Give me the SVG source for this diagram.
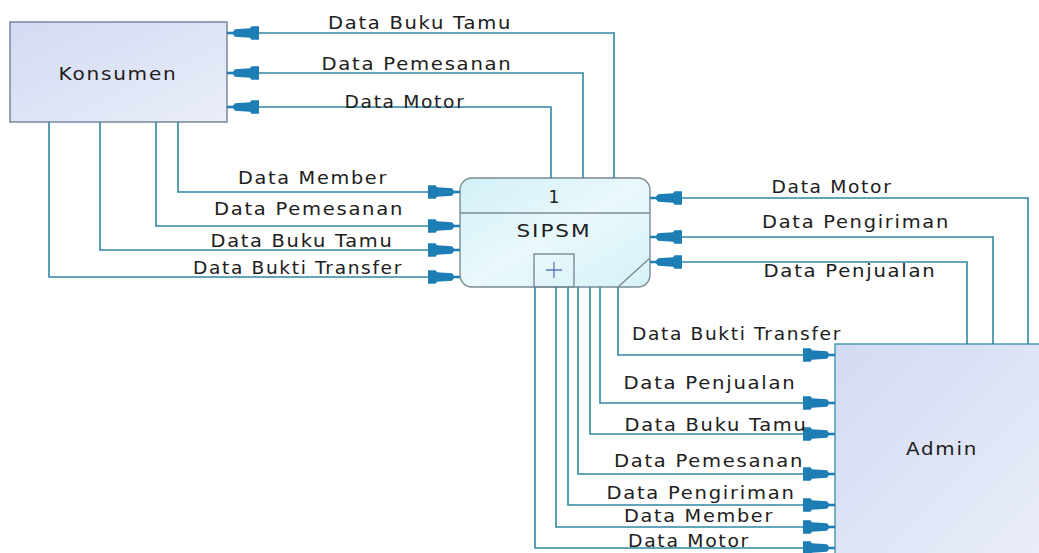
<svg xmlns="http://www.w3.org/2000/svg" width="1039" height="553" viewBox="0 0 1039 553">
  <style>
    .lbl { font-family: "DejaVu Sans", "Liberation Sans", sans-serif; font-size: 17px; letter-spacing: 1.5px; fill: #202020; text-anchor: middle; }
    .flow { fill: none; stroke: #2f86a3; stroke-width: 1.6; marker-end: url(#arrow); }
    .entity { stroke: #6e7f92; stroke-width: 1.4; }
    .proc { stroke: #7b8b96; stroke-width: 1.4; }
  </style>
  <defs>
    <linearGradient id="entFill" x1="0" y1="0" x2="1" y2="1">
      <stop offset="0" stop-color="#d3daf3"/>
      <stop offset="1" stop-color="#eaeef9"/>
    </linearGradient>
    <linearGradient id="procFill" x1="0" y1="0" x2="1" y2="1">
      <stop offset="0" stop-color="#d2f0f7"/>
      <stop offset="0.5" stop-color="#e9f8fb"/>
      <stop offset="1" stop-color="#d6f2f8"/>
    </linearGradient>
    <marker id="arrow" markerUnits="userSpaceOnUse" viewBox="-33 -8 34 16" markerWidth="34" markerHeight="16" refX="0" refY="0" orient="auto">
      <path d="M0,-1.2 L-6,-1.2 L-8,-3.8 L-23,-4.8 L-24.5,-6.8 L-32,-6.8 L-32,6.8 L-24.5,6.8 L-23,4.8 L-8,3.8 L-6,1.2 L0,1.2 Z" fill="#1d7db5"/>
    </marker>
  </defs>

  <rect width="1039" height="553" fill="#ffffff"/>

  <!-- external entity: Konsumen -->
  <g id="konsumen">
    <rect class="entity" x="10" y="22" width="217" height="100" fill="url(#entFill)"/>
    <text class="lbl" x="118" y="80" textLength="119" lengthAdjust="spacingAndGlyphs">Konsumen</text>
  </g>

  <!-- process 1: SIPSM -->
  <g id="sipsm">
    <rect class="proc" x="460" y="178" width="190" height="109" rx="12" fill="url(#procFill)"/>
    <line class="proc" x1="460" y1="213" x2="650" y2="213"/>
    <line class="proc" x1="618" y1="287" x2="650" y2="258"/>
    <rect class="proc" x="534" y="254" width="40" height="33" fill="none"/>
    <text class="lbl" x="554" y="203" style="letter-spacing:0">1</text>
    <text class="lbl" x="554" y="237" textLength="75" lengthAdjust="spacingAndGlyphs">SIPSM</text>
    <path d="M546,270 H562 M554,262 V278" stroke="#5b78b8" stroke-width="1.3" fill="none"/>
  </g>

  <!-- external entity: Admin -->
  <g id="admin">
    <rect x="835" y="344" width="210" height="215" fill="url(#entFill)" stroke="#3f97b0" stroke-width="1.4"/>
    <text class="lbl" x="942" y="455" textLength="72" lengthAdjust="spacingAndGlyphs">Admin</text>
  </g>

  <!-- data flows -->
  <g id="flows">
    <!-- SIPSM to Konsumen -->
    <path class="flow" d="M614,178 V33 H227"/>
    <path class="flow" d="M583,178 V73 H227"/>
    <path class="flow" d="M551,178 V107 H227"/>
    <!-- Konsumen to SIPSM -->
    <path class="flow" d="M178,122 V192 H460"/>
    <path class="flow" d="M156,122 V226 H460"/>
    <path class="flow" d="M100,122 V250 H460"/>
    <path class="flow" d="M49,122 V277 H460"/>
    <!-- Admin to SIPSM -->
    <path class="flow" d="M1028,344 V198 H650"/>
    <path class="flow" d="M993,344 V237 H650"/>
    <path class="flow" d="M967,344 V262 H650"/>
    <!-- SIPSM to Admin -->
    <path class="flow" d="M618,287 V355 H835"/>
    <path class="flow" d="M600,287 V403 H835"/>
    <path class="flow" d="M590,287 V434 H835"/>
    <path class="flow" d="M578,287 V474 H835"/>
    <path class="flow" d="M568,287 V505 H835"/>
    <path class="flow" d="M556,287 V527 H835"/>
    <path class="flow" d="M535,287 V548 H835"/>
  </g>

  <!-- flow labels -->
  <g id="flow-labels">
    <text class="lbl" x="420" y="29" textLength="184" lengthAdjust="spacingAndGlyphs">Data Buku Tamu</text>
    <text class="lbl" x="417" y="70" textLength="191" lengthAdjust="spacingAndGlyphs">Data Pemesanan</text>
    <text class="lbl" x="405" y="108" textLength="121" lengthAdjust="spacingAndGlyphs">Data Motor</text>

    <text class="lbl" x="313" y="184" textLength="150" lengthAdjust="spacingAndGlyphs">Data Member</text>
    <text class="lbl" x="309" y="215" textLength="190" lengthAdjust="spacingAndGlyphs">Data Pemesanan</text>
    <text class="lbl" x="302" y="247" textLength="183" lengthAdjust="spacingAndGlyphs">Data Buku Tamu</text>
    <text class="lbl" x="298" y="274" textLength="210" lengthAdjust="spacingAndGlyphs">Data Bukti Transfer</text>

    <text class="lbl" x="832" y="193" textLength="121" lengthAdjust="spacingAndGlyphs">Data Motor</text>
    <text class="lbl" x="856" y="228" textLength="188" lengthAdjust="spacingAndGlyphs">Data Pengiriman</text>
    <text class="lbl" x="850" y="277" textLength="173" lengthAdjust="spacingAndGlyphs">Data Penjualan</text>

    <text class="lbl" x="737" y="340" textLength="210" lengthAdjust="spacingAndGlyphs">Data Bukti Transfer</text>
    <text class="lbl" x="710" y="389" textLength="173" lengthAdjust="spacingAndGlyphs">Data Penjualan</text>
    <text class="lbl" x="716" y="431" textLength="183" lengthAdjust="spacingAndGlyphs">Data Buku Tamu</text>
    <text class="lbl" x="709" y="467" textLength="190" lengthAdjust="spacingAndGlyphs">Data Pemesanan</text>
    <text class="lbl" x="701" y="499" textLength="189" lengthAdjust="spacingAndGlyphs">Data Pengiriman</text>
    <text class="lbl" x="699" y="522" textLength="150" lengthAdjust="spacingAndGlyphs">Data Member</text>
    <text class="lbl" x="689" y="547" textLength="122" lengthAdjust="spacingAndGlyphs">Data Motor</text>
  </g>
</svg>
